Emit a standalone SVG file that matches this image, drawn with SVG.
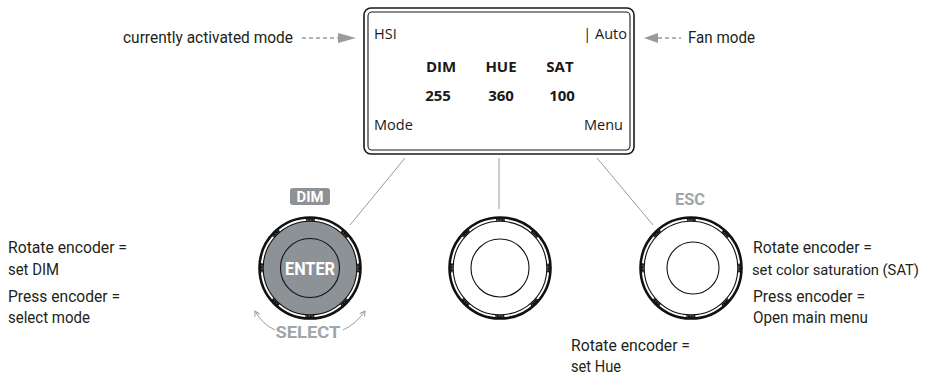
<svg xmlns="http://www.w3.org/2000/svg" xmlns:xlink="http://www.w3.org/1999/xlink" width="927" height="377" viewBox="0 0 927 377">
<style>
.ann{font-family:Roboto,"Liberation Sans",sans-serif;font-size:17px;fill:#231f20}
.lcd{font-family:"Open Sans","Noto Sans",sans-serif;font-size:14.5px;fill:#1a1a1a}
.lcdb{font-family:"Open Sans","Noto Sans",sans-serif;font-size:15px;font-weight:bold;fill:#1a1a1a}
.lbl{font-family:Roboto,"Liberation Sans",sans-serif;font-weight:bold;text-anchor:middle}
.conn{stroke:#9a9a9a;stroke-width:1;fill:none}
.dash{stroke:#9a9a9a;stroke-width:1.3;stroke-dasharray:4 3;fill:none}
</style>
<defs>
<marker id="ah" viewBox="0 0 10 10" refX="8" refY="5" markerWidth="7" markerHeight="7" orient="auto">
<path d="M1,1 L8,5 L1,9" fill="none" stroke="#9a9a9a" stroke-width="1.4"/>
</marker>
<g id="ring">
<circle r="50.5" fill="none" stroke="#111" stroke-width="2.6"/>
<circle r="46.8" fill="none" stroke="#111" stroke-width="1.1"/>
<circle r="48.7" fill="none" stroke="#111" stroke-width="2.8" stroke-dasharray="9 29.25" transform="rotate(-5.3)"/>
<circle r="48.7" fill="none" stroke="#fff" stroke-width="0.7" stroke-dasharray="1 2" transform="rotate(-5.3)" opacity="0.6"/>
</g>
</defs>
<rect width="927" height="377" fill="#fff"/>

<g id="display">
<rect x="364" y="8" width="270" height="146" rx="7" fill="#fff" stroke="#1a1a1a" stroke-width="1.6"/>
<rect x="368" y="12" width="262" height="138" rx="4" fill="none" stroke="#1a1a1a" stroke-width="1.1"/>
<text class="lcd" x="374" y="39">HSI</text>
<text class="lcd" x="627" y="39" text-anchor="end">| Auto</text>
<text class="lcdb" x="441" y="72" text-anchor="middle">DIM</text>
<text class="lcdb" x="501" y="72" text-anchor="middle">HUE</text>
<text class="lcdb" x="560" y="72" text-anchor="middle">SAT</text>
<text class="lcdb" x="438" y="101" text-anchor="middle">255</text>
<text class="lcdb" x="501" y="101" text-anchor="middle">360</text>
<text class="lcdb" x="562" y="101" text-anchor="middle">100</text>
<text class="lcd" x="374" y="130">Mode</text>
<text class="lcd" x="623" y="130" text-anchor="end">Menu</text>
</g>

<g id="connectors">
<line class="conn" x1="405" y1="158" x2="350" y2="225"/>
<line class="conn" x1="499" y1="158" x2="499" y2="209"/>
<line class="conn" x1="597" y1="158" x2="653" y2="225"/>
<line class="dash" x1="302" y1="38" x2="338" y2="38"/>
<polygon points="338,33 356,38 338,43" fill="#9a9a9a"/>
<line class="dash" x1="658" y1="38" x2="681" y2="38"/>
<polygon points="658,33 644,38 658,43" fill="#9a9a9a"/>
<path class="conn" d="M275,330 Q262,324 255,311" marker-end="url(#ah)"/>
<path class="conn" d="M343,330 Q356,324 365,311" marker-end="url(#ah)"/>
</g>

<g id="knob-dim">
<circle cx="310" cy="268" r="47" fill="#8d9296"/>
<use xlink:href="#ring" href="#ring" x="310" y="268"/>
<circle cx="310" cy="268" r="29.5" fill="none" stroke="#111" stroke-width="1.1"/>
<text class="lbl" x="310" y="275" font-size="18" fill="#fff" textLength="50" lengthAdjust="spacingAndGlyphs">ENTER</text>
<rect x="290" y="188" width="40" height="17" rx="3" fill="#8d9296"/>
<text class="lbl" x="310" y="202" font-size="15" fill="#fff" textLength="27" lengthAdjust="spacingAndGlyphs">DIM</text>
<text class="lbl" x="308" y="338" font-size="17" fill="#a0a5a9" textLength="65" lengthAdjust="spacingAndGlyphs">SELECT</text>
</g>

<g id="knob-hue">
<use xlink:href="#ring" href="#ring" x="500" y="268"/>
<circle cx="500" cy="268" r="29" fill="none" stroke="#111" stroke-width="1.1"/>
</g>

<g id="knob-sat">
<use xlink:href="#ring" href="#ring" x="691" y="268"/>
<circle cx="693" cy="268" r="26" fill="none" stroke="#111" stroke-width="1.1"/>
<text class="lbl" x="690" y="205" font-size="16" fill="#a0a5a9" textLength="30" lengthAdjust="spacingAndGlyphs">ESC</text>
</g>

<g id="annotations">
<text class="ann" x="123" y="43" textLength="170" lengthAdjust="spacingAndGlyphs">currently activated mode</text>
<text class="ann" x="688" y="43" textLength="67" lengthAdjust="spacingAndGlyphs">Fan mode</text>
<text class="ann" x="8" y="253" textLength="119" lengthAdjust="spacingAndGlyphs">Rotate encoder =</text>
<text class="ann" x="8" y="275" textLength="51" lengthAdjust="spacingAndGlyphs">set DIM</text>
<text class="ann" x="8" y="302" textLength="112" lengthAdjust="spacingAndGlyphs">Press encoder =</text>
<text class="ann" x="8" y="323" textLength="82" lengthAdjust="spacingAndGlyphs">select mode</text>
<text class="ann" x="753" y="253" textLength="119" lengthAdjust="spacingAndGlyphs">Rotate encoder =</text>
<text class="ann" x="752" y="275" style="font-size:15px" textLength="167" lengthAdjust="spacingAndGlyphs">set color saturation (SAT)</text>
<text class="ann" x="753" y="302" textLength="112" lengthAdjust="spacingAndGlyphs">Press encoder =</text>
<text class="ann" x="753" y="323" textLength="115" lengthAdjust="spacingAndGlyphs">Open main menu</text>
<text class="ann" x="571" y="351" textLength="119" lengthAdjust="spacingAndGlyphs">Rotate encoder =</text>
<text class="ann" x="571" y="372" textLength="50" lengthAdjust="spacingAndGlyphs">set Hue</text>
</g>
</svg>
